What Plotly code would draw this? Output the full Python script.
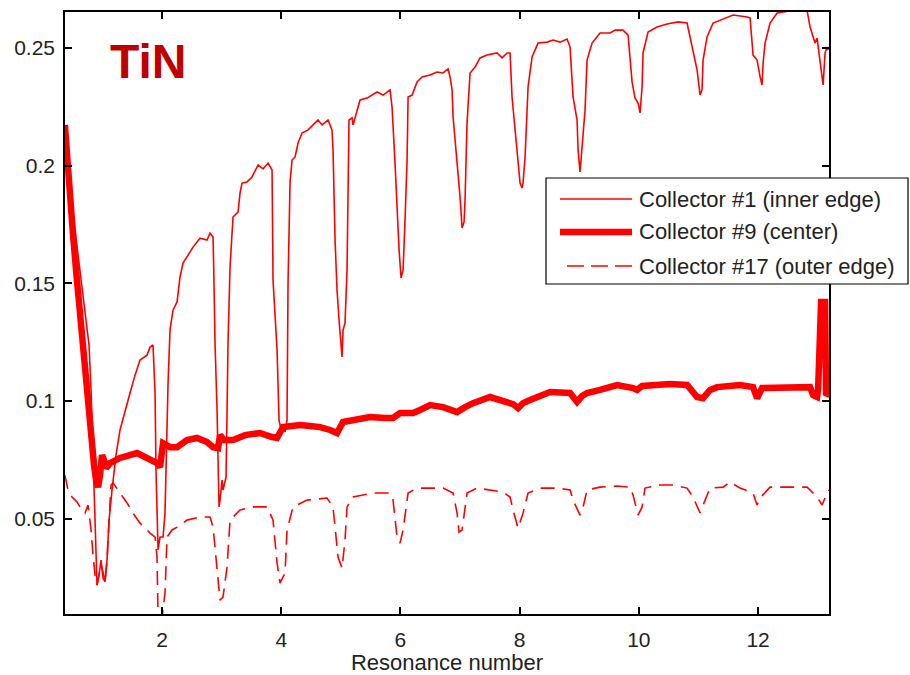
import plotly.graph_objects as go

# ---------------- data ----------------
x_ticks = [2, 4, 6, 8, 10, 12]
y_ticks = [0.05, 0.1, 0.15, 0.2, 0.25]
y_tick_labels = ["0.05", "0.1", "0.15", "0.2", "0.25"]

series_names = ["Collector #1 (inner edge)", "Collector #9 (center)", "Collector #17 (outer edge)"]

# Collector #1 (inner edge)
c1_x = [
    0.370, 0.456, 0.540, 0.624, 0.708, 0.775, 0.809, 0.842, 0.876, 0.909,
    0.943, 0.977, 1.010, 1.044, 1.077, 1.111, 1.161, 1.228, 1.295, 1.379,
    1.463, 1.547, 1.631, 1.748, 1.799, 1.849, 1.883, 1.899, 1.933, 1.966,
    2.017, 2.050, 2.084, 2.101, 2.134, 2.185, 2.252, 2.302, 2.352, 2.520,
    2.638, 2.755, 2.805, 2.856, 2.872, 2.889, 2.923, 2.940, 2.956, 2.973,
    3.007, 3.023, 3.074, 3.091, 3.107, 3.141, 3.174, 3.191, 3.275, 3.309,
    3.342, 3.426, 3.510, 3.611, 3.695, 3.779, 3.846, 3.862, 3.930, 3.963,
    3.997, 4.030, 4.064, 4.097, 4.114, 4.131, 4.148, 4.181, 4.232, 4.282,
    4.349, 4.450, 4.617, 4.685, 4.785, 4.852, 4.869, 4.903, 4.936, 4.970,
    5.020, 5.037, 5.070, 5.104, 5.121, 5.137, 5.188, 5.205, 5.322, 5.440,
    5.607, 5.708, 5.826, 5.859, 5.909, 5.943, 5.977, 6.010, 6.044, 6.077,
    6.111, 6.128, 6.195, 6.279, 6.362, 6.497, 6.614, 6.715, 6.799, 6.832,
    6.866, 6.883, 6.933, 6.966, 7.000, 7.034, 7.067, 7.084, 7.117, 7.168,
    7.252, 7.336, 7.453, 7.621, 7.705, 7.789, 7.839, 7.872, 7.923, 7.973,
    8.007, 8.040, 8.057, 8.091, 8.141, 8.208, 8.309, 8.460, 8.560, 8.678,
    8.795, 8.846, 8.896, 8.963, 8.980, 9.013, 9.047, 9.097, 9.131, 9.215,
    9.349, 9.517, 9.601, 9.735, 9.819, 9.886, 9.936, 9.987, 10.020, 10.054,
    10.070, 10.154, 10.305, 10.473, 10.658, 10.809, 10.826, 10.909, 10.977, 11.027,
    11.060, 11.077, 11.144, 11.245, 11.480, 11.581, 11.815, 11.866, 11.916, 11.983,
    12.034, 12.067, 12.084, 12.117, 12.201, 12.319, 12.587, 12.822, 12.872, 12.956,
    12.990, 13.007, 13.074, 13.091, 13.124, 13.158, 13.175,
]
c1_y = [
    0.2130, 0.1897, 0.1727, 0.1557, 0.1387, 0.1238, 0.1047, 0.0792, 0.0494, 0.0218,
    0.0260, 0.0324, 0.0248, 0.0231, 0.0324, 0.0494, 0.0622, 0.0770, 0.0877, 0.0962,
    0.1034, 0.1110, 0.1174, 0.1195, 0.1229, 0.1238, 0.1034, 0.0707, 0.0367, 0.0422,
    0.0422, 0.0524, 0.0919, 0.1076, 0.1302, 0.1387, 0.1421, 0.1527, 0.1586, 0.1654,
    0.1692, 0.1684, 0.1714, 0.1697, 0.1501, 0.1246, 0.0962, 0.0664, 0.0550, 0.0579,
    0.0664, 0.0622, 0.0677, 0.0962, 0.1246, 0.1569, 0.1735, 0.1782, 0.1803, 0.1884,
    0.1926, 0.1931, 0.1952, 0.2003, 0.1986, 0.2011, 0.1982, 0.1514, 0.1217, 0.0919,
    0.0877, 0.0898, 0.0868, 0.0919, 0.1501, 0.1727, 0.1931, 0.2024, 0.2037, 0.2096,
    0.2139, 0.2152, 0.2194, 0.2173, 0.2194, 0.2152, 0.2067, 0.1684, 0.1472, 0.1344,
    0.1187, 0.1302, 0.1331, 0.1557, 0.1854, 0.2194, 0.2203, 0.2173, 0.2279, 0.2287,
    0.2313, 0.2300, 0.2322, 0.2249, 0.2011, 0.1812, 0.1642, 0.1523, 0.1557, 0.1769,
    0.2024, 0.2292, 0.2300, 0.2356, 0.2377, 0.2385, 0.2398, 0.2394, 0.2411, 0.2377,
    0.2322, 0.2207, 0.2067, 0.1952, 0.1867, 0.1735, 0.1761, 0.1854, 0.2181, 0.2394,
    0.2419, 0.2458, 0.2470, 0.2479, 0.2458, 0.2479, 0.2479, 0.2292, 0.2152, 0.2016,
    0.1926, 0.1905, 0.1926, 0.2037, 0.2334, 0.2462, 0.2521, 0.2525, 0.2534, 0.2525,
    0.2538, 0.2504, 0.2292, 0.2194, 0.2067, 0.1973, 0.2079, 0.2236, 0.2449, 0.2521,
    0.2564, 0.2564, 0.2576, 0.2576, 0.2555, 0.2356, 0.2287, 0.2266, 0.2224, 0.2334,
    0.2479, 0.2568, 0.2589, 0.2602, 0.2611, 0.2606, 0.2585, 0.2491, 0.2406, 0.2300,
    0.2322, 0.2449, 0.2547, 0.2606, 0.2632, 0.2640, 0.2632, 0.2628, 0.2470, 0.2449,
    0.2377, 0.2343, 0.2436, 0.2521, 0.2606, 0.2649, 0.2660, 0.2660, 0.2589, 0.2521,
    0.2542, 0.2504, 0.2364, 0.2343, 0.2479, 0.2504, 0.2491,
]

# Collector #9 (center)
c9_x = [
    0.370, 0.406, 0.456, 0.507, 0.557, 0.607, 0.658, 0.708, 0.758, 0.809,
    0.859, 0.893, 0.926, 0.960, 0.993, 1.027, 1.060, 1.128, 1.295, 1.581,
    1.799, 1.916, 1.966, 2.017, 2.134, 2.252, 2.419, 2.587, 2.755, 2.856,
    2.940, 2.973, 3.040, 3.191, 3.393, 3.644, 3.846, 3.930, 4.030, 4.148,
    4.315, 4.483, 4.651, 4.819, 4.936, 5.037, 5.238, 5.490, 5.742, 5.876,
    5.993, 6.211, 6.329, 6.497, 6.715, 6.832, 6.950, 7.084, 7.218, 7.503,
    7.671, 7.789, 7.889, 7.973, 8.057, 8.174, 8.510, 8.846, 8.963, 9.047,
    9.131, 9.349, 9.634, 9.903, 9.970, 10.054, 10.238, 10.523, 10.809, 10.909,
    10.977, 11.077, 11.195, 11.312, 11.698, 11.916, 11.983, 12.067, 12.285, 12.537,
    12.872, 12.923, 12.990, 13.007, 13.023, 13.057, 13.124, 13.141, 13.190,
]
c9_y = [
    0.2173, 0.2024, 0.1854, 0.1705, 0.1557, 0.1408, 0.1259, 0.1110, 0.0962, 0.0834,
    0.0728, 0.0664, 0.0634, 0.0685, 0.0770, 0.0749, 0.0715, 0.0736, 0.0758, 0.0779,
    0.0749, 0.0736, 0.0719, 0.0821, 0.0804, 0.0804, 0.0834, 0.0843, 0.0826, 0.0804,
    0.0800, 0.0855, 0.0834, 0.0834, 0.0855, 0.0864, 0.0847, 0.0843, 0.0889, 0.0894,
    0.0898, 0.0894, 0.0889, 0.0877, 0.0864, 0.0911, 0.0919, 0.0932, 0.0928, 0.0928,
    0.0949, 0.0949, 0.0962, 0.0983, 0.0974, 0.0962, 0.0953, 0.0974, 0.0991, 0.1017,
    0.1004, 0.0996, 0.0987, 0.0970, 0.0991, 0.1004, 0.1038, 0.1034, 0.0996, 0.1021,
    0.1034, 0.1047, 0.1068, 0.1055, 0.1047, 0.1064, 0.1068, 0.1072, 0.1068, 0.1038,
    0.1017, 0.1012, 0.1047, 0.1059, 0.1068, 0.1059, 0.1012, 0.1055, 0.1055, 0.1059,
    0.1059, 0.1025, 0.1017, 0.1047, 0.1302, 0.1421, 0.1421, 0.1025, 0.1034,
]

# Collector #17 (outer edge)
c17_x = [
    0.370, 0.423, 0.490, 0.574, 0.658, 0.708, 0.758, 0.809, 0.842, 0.876,
    0.909, 0.943, 0.977, 1.010, 1.044, 1.077, 1.111, 1.144, 1.178, 1.295,
    1.413, 1.513, 1.631, 1.799, 1.883, 1.916, 1.933, 2.000, 2.050, 2.084,
    2.168, 2.252, 2.419, 2.638, 2.805, 2.856, 2.923, 2.973, 3.023, 3.091,
    3.141, 3.309, 3.527, 3.762, 3.862, 3.930, 3.980, 4.064, 4.097, 4.198,
    4.433, 4.768, 4.869, 4.953, 5.020, 5.070, 5.104, 5.205, 5.540, 5.826,
    5.876, 5.943, 5.993, 6.044, 6.128, 6.279, 6.715, 6.883, 6.950, 6.983,
    7.034, 7.067, 7.117, 7.285, 7.503, 7.721, 7.839, 7.889, 7.973, 8.057,
    8.141, 8.342, 8.628, 8.846, 8.896, 9.013, 9.064, 9.131, 9.349, 9.634,
    9.852, 9.903, 9.987, 10.054, 10.104, 10.356, 10.574, 10.809, 10.909, 11.027,
    11.111, 11.195, 11.413, 11.530, 11.698, 11.916, 11.983, 12.034, 12.201, 12.537,
    12.822, 12.990, 13.074, 13.158, 13.190,
]
c17_y = [
    0.0685, 0.0622, 0.0592, 0.0571, 0.0537, 0.0524, 0.0558, 0.0452, 0.0346, 0.0260,
    0.0218, 0.0260, 0.0303, 0.0273, 0.0231, 0.0324, 0.0494, 0.0643, 0.0652, 0.0609,
    0.0567, 0.0524, 0.0481, 0.0439, 0.0422, 0.0337, 0.0080, 0.0080, 0.0184, 0.0422,
    0.0452, 0.0464, 0.0494, 0.0507, 0.0507, 0.0464, 0.0294, 0.0154, 0.0167, 0.0294,
    0.0494, 0.0537, 0.0550, 0.0550, 0.0494, 0.0311, 0.0226, 0.0269, 0.0452, 0.0550,
    0.0579, 0.0588, 0.0550, 0.0337, 0.0290, 0.0409, 0.0550, 0.0592, 0.0609, 0.0609,
    0.0579, 0.0422, 0.0396, 0.0452, 0.0609, 0.0630, 0.0630, 0.0609, 0.0524, 0.0443,
    0.0452, 0.0524, 0.0609, 0.0630, 0.0622, 0.0613, 0.0592, 0.0537, 0.0460, 0.0524,
    0.0609, 0.0630, 0.0630, 0.0622, 0.0579, 0.0515, 0.0550, 0.0622, 0.0634, 0.0639,
    0.0634, 0.0600, 0.0515, 0.0550, 0.0630, 0.0643, 0.0643, 0.0630, 0.0592, 0.0524,
    0.0579, 0.0630, 0.0634, 0.0656, 0.0630, 0.0609, 0.0558, 0.0588, 0.0634, 0.0634,
    0.0634, 0.0592, 0.0558, 0.0609, 0.0622,
]

assert len(c1_x) == len(c1_y)
assert len(c9_x) == len(c9_y)
assert len(c17_x) == len(c17_y)

# ---------------- figure ----------------
RED = "#FF0000"
FONT = "Liberation Sans"

# plot-area pixel geometry (for legend placement in paper coords)
L, R, T, B = 65, 829, 12, 614
PW, PH = R - L, B - T


def px(xp):
    return (xp - L) / PW


def py(yp):
    return (B - yp) / PH


fig = go.Figure()
fig.add_trace(go.Scatter(x=c17_x, y=c17_y, mode="lines", name=series_names[2],
                         line=dict(color=RED, width=1.6, dash="14px,8px")))
fig.add_trace(go.Scatter(x=c1_x, y=c1_y, mode="lines", name=series_names[0],
                         line=dict(color=RED, width=1.6)))
fig.add_trace(go.Scatter(x=c9_x, y=c9_y, mode="lines", name=series_names[1],
                         line=dict(color=RED, width=6.5)))

fig.update_layout(
    width=910, height=675,
    margin=dict(l=L, r=910 - R, t=T, b=675 - B),
    paper_bgcolor="white", plot_bgcolor="white",
    showlegend=False,
    font=dict(family=FONT, size=21, color="black"),
)

axis_common = dict(
    ticks="inside", ticklen=7, tickwidth=1.5, tickcolor="black",
    showline=True, linecolor="black", linewidth=1.5, mirror="ticks",
    showgrid=False, zeroline=False, automargin=False,
    tickfont=dict(family=FONT, size=21, color="#222222"),
)
fig.update_xaxes(range=[0.372, 13.19], tickvals=x_ticks, ticklabelstandoff=6,
                 title=dict(text="Resonance number", standoff=6,
                            font=dict(family=FONT, size=22, color="#222222")),
                 **axis_common)
fig.update_yaxes(range=[0.0095, 0.2653], tickvals=y_ticks, ticktext=y_tick_labels,
                 ticklabelstandoff=4, **axis_common)

# TiN label
fig.add_annotation(text="<b>TiN</b>", xref="paper", yref="paper",
                   x=px(147.5), y=py(62), xanchor="center", yanchor="middle",
                   showarrow=False, font=dict(family=FONT, size=48, color="#C00000"))

# legend box drawn as in the reference
fig.add_shape(type="rect", xref="paper", yref="paper", layer="above",
              x0=px(546), x1=px(908), y0=py(284), y1=py(178),
              line=dict(color="black", width=1.2), fillcolor="white")
legend_rows = [
    (199, series_names[0], dict(color=RED, width=1.6), 560),
    (232, series_names[1], dict(color=RED, width=6.5), 560),
    (266, series_names[2], dict(color=RED, width=1.6, dash="17px,7px"), 567),
]
for yrow, label, lstyle, xstart in legend_rows:
    fig.add_shape(type="line", xref="paper", yref="paper", layer="above",
                  x0=px(xstart), x1=px(632), y0=py(yrow), y1=py(yrow), line=lstyle)
    fig.add_annotation(text=label, xref="paper", yref="paper",
                       x=px(637), y=py(yrow), xanchor="left", yanchor="middle",
                       showarrow=False, font=dict(family=FONT, size=22, color="#222222"))

fig.write_html("out.html")
